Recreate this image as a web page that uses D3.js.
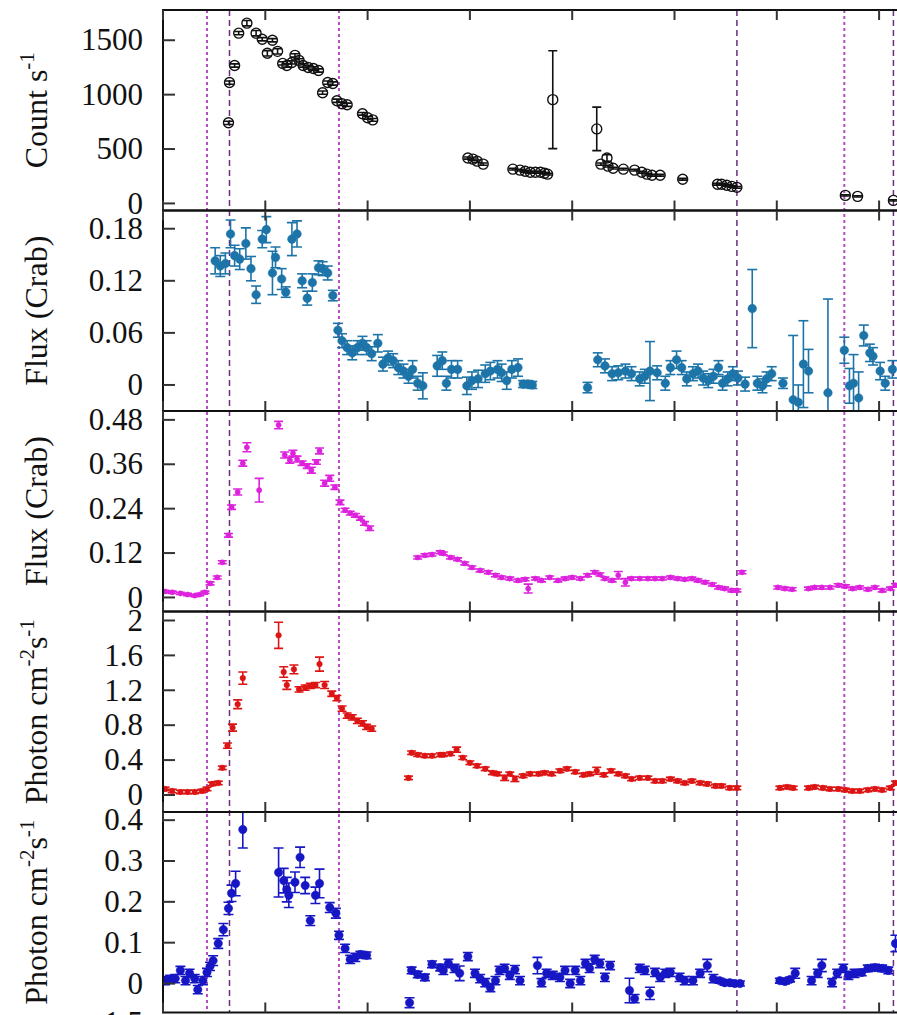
<!DOCTYPE html>
<html>
<head>
<meta charset="utf-8">
<script src="https://cdn.jsdelivr.net/npm/d3@7"></script>
<style>
  body { margin: 0; background: #fff; }
  svg { display: block; }
</style>
</head>
<body>
<div id="chart"></div>
<script>
// time in ks from start of panel, [t, value, error]

const countRate = [
  [64,741,15],[65,1111,15],[70,1268,15],[74,1565,15],[82,1657,25],[91,1565,25],[97,1509,15],
  [102,1380,25],[107,1500,15],[112,1398,25],[117,1287,15],[121,1268,15],[126,1296,15],[129,1361,15],
  [133,1315,15],[137,1268,15],[142,1250,15],[147,1240,15],[152,1222,15],[156,1018,15],[161,1111,15],
  [166,1102,15],[170,944,15],[175,916,15],[180,907,15],[195,824,12],[200,787,12],[205,768,12],
  [298,417,10],[303,407,10],[307,389,10],[313,361,10],[342,315,8],[349,306,8],[354,296,8],[359,287,8],
  [364,287,8],[369,287,8],[373,278,8],[376,269,8],[381,954,450],[424,685,200],[428,361,10],[434,417,30],
  [435,343,8],[440,324,8],[450,315,8],[461,306,8],[468,287,8],[473,269,8],[478,259,8],[486,259,8],
  [508,222,8],[542,176,8],[546,176,8],[551,167,8],[556,157,8],[561,148,8],[667,74,6],[679,65,6],[714,28,6]
];

const crabFluxHard = [
  [51,0.143,0.015],[56,0.137,0.012],[61,0.140,0.012],[66,0.174,0.016],[70,0.149,0.012],[75,0.145,0.012],
  [81,0.163,0.018],[86,0.134,0.014],[91,0.104,0.010],[97,0.168,0.010],[101,0.179,0.015],[107,0.129,0.025],
  [110,0.147,0.012],[116,0.122,0.012],[120,0.107,0.006],[126,0.168,0.019],[131,0.174,0.015],[136,0.120,0.008],
  [141,0.100,0.008],[146,0.118,0.010],[152,0.135,0.008],[156,0.134,0.008],[161,0.129,0.008],[166,0.103,0.006],
  [171,0.063,0.008],[175,0.051,0.008],[180,0.043,0.008],[185,0.037,0.008],[190,0.043,0.008],[195,0.048,0.008],
  [199,0.043,0.008],[204,0.036,0.008],[210,0.048,0.010],[215,0.024,0.008],[220,0.031,0.008],[225,0.028,0.008],
  [230,0.020,0.008],[235,0.016,0.008],[240,0.010,0.008],[244,0.018,0.010],[249,0.002,0.008],[254,-0.001,0.015],
  [268,0.022,0.012],[273,0.028,0.010],[277,0.002,0.008],[282,0.018,0.010],[288,0.018,0.010],[297,-0.001,0.010],
  [302,0.005,0.010],[308,0.007,0.010],[315,0.013,0.010],[320,0.016,0.010],[327,0.018,0.010],[331,0.014,0.010],
  [336,0.005,0.010],[341,0.018,0.010],[347,0.020,0.010],[352,0.001,0.004],[357,0.001,0.004],[361,0.000,0.004],
  [415,-0.003,0.006],[425,0.029,0.008],[432,0.022,0.008],[439,0.013,0.008],[445,0.014,0.008],[452,0.016,0.008],
  [458,0.013,0.008],[466,0.007,0.008],[471,0.010,0.008],[476,0.016,0.034],[483,0.014,0.008],[491,0.002,0.008],
  [496,0.020,0.008],[502,0.029,0.010],[507,0.020,0.008],[512,0.007,0.008],[518,0.013,0.008],[523,0.016,0.008],
  [528,0.008,0.008],[533,0.005,0.008],[538,0.010,0.008],[543,0.020,0.008],[547,0.002,0.008],[552,0.007,0.008],
  [557,0.013,0.008],[562,0.008,0.008],[569,0.001,0.008],[576,0.088,0.045],[581,0.002,0.008],[586,-0.001,0.008],
  [590,0.007,0.008],[595,0.013,0.008],[606,0.002,0.006],[616,-0.017,0.074],[621,-0.020,0.020],[626,0.024,0.050],
  [631,0.016,0.025],[650,-0.009,0.108],[666,0.040,0.015],[671,-0.001,0.020],[675,0.002,0.033],[680,-0.015,0.030],
  [685,0.057,0.012],[691,0.037,0.010],[694,0.033,0.010],[701,0.016,0.010],[706,0.002,0.008],[713,0.018,0.010]
];

const crabFluxSoft = [
  [2,0.016,0.003],[9,0.014,0.003],[17,0.011,0.003],[24,0.008,0.003],[31,0.005,0.003],[36,0.008,0.003],
  [41,0.014,0.003],[46,0.038,0.004],[53,0.054,0.004],[58,0.095,0.004],[64,0.168,0.005],[67,0.244,0.006],
  [73,0.285,0.008],[78,0.363,0.008],[82,0.406,0.012],[94,0.290,0.032],[113,0.466,0.010],[119,0.385,0.008],
  [124,0.371,0.008],[127,0.390,0.008],[131,0.374,0.008],[136,0.363,0.006],[141,0.355,0.006],[145,0.344,0.008],
  [150,0.366,0.006],[153,0.396,0.008],[158,0.309,0.008],[163,0.322,0.008],[168,0.298,0.006],[173,0.257,0.006],
  [178,0.236,0.005],[183,0.228,0.005],[188,0.222,0.005],[193,0.214,0.005],[197,0.200,0.005],[202,0.187,0.006],
  [249,0.108,0.004],[256,0.114,0.004],[263,0.116,0.004],[271,0.122,0.004],[274,0.119,0.004],[281,0.108,0.004],
  [288,0.103,0.004],[295,0.092,0.004],[302,0.081,0.004],[310,0.073,0.004],[318,0.068,0.004],[325,0.060,0.004],
  [331,0.054,0.004],[339,0.051,0.004],[347,0.046,0.004],[354,0.049,0.004],[357,0.024,0.012],[364,0.051,0.004],
  [370,0.046,0.004],[378,0.054,0.004],[386,0.046,0.004],[393,0.051,0.004],[400,0.054,0.004],[408,0.051,0.004],
  [415,0.060,0.004],[422,0.068,0.004],[427,0.062,0.004],[432,0.051,0.004],[439,0.046,0.004],[445,0.060,0.010],
  [452,0.041,0.010],[458,0.051,0.004],[466,0.051,0.004],[474,0.051,0.004],[481,0.051,0.004],[488,0.051,0.004],
  [496,0.054,0.004],[503,0.051,0.004],[510,0.049,0.004],[517,0.051,0.004],[523,0.046,0.004],[530,0.041,0.004],
  [537,0.035,0.004],[543,0.027,0.004],[549,0.024,0.004],[556,0.019,0.004],[561,0.019,0.004],[566,0.068,0.004],
  [601,0.027,0.004],[608,0.024,0.004],[615,0.022,0.004],[631,0.024,0.004],[637,0.027,0.004],[644,0.027,0.004],
  [652,0.027,0.004],[660,0.033,0.004],[667,0.030,0.004],[674,0.024,0.004],[681,0.027,0.004],[689,0.022,0.004],
  [696,0.027,0.004],[703,0.019,0.004],[711,0.024,0.004],[716,0.033,0.004]
];

const photonFluxSoft = [
  [2,0.069,0.02],[9,0.046,0.02],[17,0.035,0.02],[24,0.035,0.02],[31,0.035,0.02],[38,0.046,0.02],[43,0.069,0.02],
  [48,0.127,0.02],[54,0.138,0.02],[58,0.311,0.02],[63,0.565,0.03],[68,0.772,0.04],[73,1.04,0.05],[78,1.34,0.07],
  [113,1.83,0.15],[118,1.41,0.06],[121,1.26,0.05],[128,1.44,0.05],[133,1.21,0.03],[139,1.23,0.03],[144,1.25,0.03],
  [149,1.26,0.03],[153,1.50,0.08],[158,1.26,0.04],[165,1.16,0.03],[170,1.11,0.03],[175,0.99,0.03],[180,0.91,0.03],
  [185,0.89,0.03],[190,0.85,0.03],[195,0.82,0.03],[199,0.78,0.03],[204,0.76,0.03],[240,0.196,0.02],[243,0.484,0.02],
  [249,0.461,0.02],[256,0.450,0.02],[263,0.450,0.02],[271,0.461,0.02],[274,0.461,0.02],[281,0.473,0.02],[287,0.519,0.03],
  [293,0.427,0.02],[300,0.369,0.02],[307,0.334,0.02],[315,0.300,0.02],[322,0.254,0.02],[327,0.242,0.02],[334,0.196,0.03],
  [339,0.242,0.02],[344,0.184,0.03],[352,0.219,0.02],[359,0.242,0.02],[367,0.242,0.02],[373,0.254,0.02],[380,0.242,0.02],
  [388,0.277,0.02],[395,0.300,0.02],[403,0.265,0.02],[411,0.231,0.02],[417,0.242,0.02],[424,0.277,0.04],[431,0.231,0.02],
  [438,0.277,0.02],[445,0.242,0.02],[452,0.219,0.02],[458,0.184,0.02],[466,0.196,0.02],[474,0.196,0.02],[481,0.161,0.02],
  [488,0.161,0.02],[496,0.184,0.02],[503,0.161,0.02],[510,0.138,0.02],[517,0.161,0.02],[525,0.138,0.02],[532,0.127,0.02],
  [540,0.104,0.02],[546,0.104,0.02],[554,0.081,0.02],[561,0.081,0.02],[603,0.081,0.02],[610,0.092,0.02],[616,0.081,0.02],
  [631,0.081,0.02],[637,0.092,0.02],[645,0.081,0.02],[652,0.069,0.02],[660,0.069,0.02],[667,0.058,0.02],[674,0.046,0.02],
  [681,0.046,0.02],[689,0.058,0.02],[696,0.069,0.02],[703,0.058,0.02],[711,0.081,0.02],[716,0.138,0.02]
];

const photonFluxHard = [
  [2,0.007,0.01],[7,0.010,0.01],[12,0.012,0.01],[17,0.032,0.01],[22,0.007,0.01],[26,0.025,0.01],[31,0.012,0.01],
  [34,-0.015,0.01],[39,0.007,0.01],[43,0.027,0.01],[46,0.042,0.01],[49,0.056,0.012],[54,0.098,0.012],[59,0.132,0.015],
  [64,0.184,0.015],[67,0.221,0.02],[71,0.245,0.03],[78,0.377,0.045],[113,0.272,0.06],[118,0.252,0.03],[121,0.230,0.03],
  [123,0.216,0.03],[129,0.248,0.025],[134,0.309,0.025],[139,0.240,0.02],[144,0.154,0.012],[149,0.216,0.02],[153,0.245,0.035],
  [163,0.186,0.012],[169,0.172,0.012],[172,0.118,0.01],[178,0.086,0.01],[183,0.059,0.01],[188,0.064,0.01],[193,0.071,0.008],
  [199,0.069,0.008],[241,-0.047,0.012],[243,0.032,0.008],[249,0.022,0.008],[256,0.015,0.008],[263,0.047,0.008],[271,0.039,0.008],
  [274,0.032,0.01],[279,0.049,0.01],[285,0.037,0.01],[290,0.025,0.018],[298,0.066,0.01],[305,0.025,0.01],[310,0.012,0.01],
  [315,0.002,0.01],[320,-0.010,0.01],[325,0.007,0.01],[329,0.032,0.01],[334,0.037,0.01],[339,0.020,0.01],[344,0.034,0.01],
  [349,0.007,0.01],[366,0.044,0.02],[370,0.002,0.01],[375,0.025,0.01],[381,0.020,0.01],[388,0.015,0.01],[393,0.032,0.01],
  [398,0.000,0.01],[403,0.032,0.01],[408,0.007,0.01],[413,0.049,0.01],[417,0.037,0.01],[422,0.059,0.01],[427,0.049,0.01],
  [432,0.015,0.01],[437,0.044,0.01],[456,-0.017,0.03],[461,-0.037,0.01],[466,0.037,0.01],[471,0.032,0.01],[476,-0.024,0.015],
  [481,0.027,0.01],[486,0.015,0.01],[491,0.025,0.01],[496,0.027,0.01],[505,0.015,0.01],[510,0.007,0.01],[518,0.007,0.01],
  [525,0.025,0.01],[532,0.044,0.015],[538,0.012,0.01],[544,0.007,0.006],[549,0.002,0.006],[554,0.002,0.006],[559,0.000,0.006],
  [564,0.000,0.006],[603,0.007,0.006],[608,0.005,0.006],[613,0.010,0.006],[618,0.025,0.012],[634,0.007,0.01],[640,0.025,0.01],
  [644,0.044,0.015],[654,0.002,0.01],[659,0.025,0.01],[665,0.037,0.01],[670,0.020,0.01],[676,0.025,0.01],[683,0.027,0.008],
  [689,0.037,0.008],[696,0.039,0.008],[703,0.037,0.008],[709,0.032,0.008],[716,0.098,0.02]
];

// vertical event markers, two kinds of dashes
const eventTimes = [43, 65, 172, 561, 666, 714];
const eventKinds = ["dot", "dash", "dot", "dash", "dot", "dash"];

const xTicks = [0, 100, 200, 300, 400, 500, 600, 700];

const countTicks = [0, 500, 1000, 1500];
const countTickLabels = ["0", "500", "1000", "1500"];
const hardTicks = [0, 0.06, 0.12, 0.18];
const hardTickLabels = ["0", "0.06", "0.12", "0.18"];
const softTicks = [0, 0.12, 0.24, 0.36, 0.48];
const softTickLabels = ["0", "0.12", "0.24", "0.36", "0.48"];
const photonSoftTicks = [0, 0.4, 0.8, 1.2, 1.6, 2];
const photonSoftTickLabels = ["0", "0.4", "0.8", "1.2", "1.6", "2"];
const photonHardTicks = [0, 0.1, 0.2, 0.3, 0.4];
const photonHardTickLabels = ["0", "0.1", "0.2", "0.3", "0.4"];

document.addEventListener('DOMContentLoaded', function() {
  var width = 897, height = 1015;
  var left = 163, top0 = 10, panelH = 200.5;
  var serif = "'Liberation Serif'";

  var svg = d3.select("#chart").append("svg")
      .attr("width", width).attr("height", height)
      .style("overflow", "hidden");

  // shared time axis, right edge of the frame is cropped off
  var x = d3.scaleLinear().domain([0, 760]).range([left, left + 760 * 1.023]);
  var right = x(760);

  var panels = [
    { data: countRate, domain: [-65, 1778], ticks: countTicks, labels: countTickLabels,
      title: [["Count s", 0], ["-1", 1]], color: "#111", r: 5, open: true, cap: 4.5 },
    { data: crabFluxHard, domain: [-0.030, 0.201], ticks: hardTicks, labels: hardTickLabels,
      title: [["Flux (Crab)", 0]], color: "#1c74a8", r: 4.3, cap: 5 },
    { data: crabFluxSoft, domain: [-0.038, 0.504], ticks: softTicks, labels: softTickLabels,
      title: [["Flux (Crab)", 0]], color: "#dd22dd", r: 2.6, cap: 4.5 },
    { data: photonFluxSoft, domain: [-0.195, 2.103], ticks: photonSoftTicks, labels: photonSoftTickLabels,
      title: [["Photon cm", 0], ["-2", 1], ["s", 0], ["-1", 1]], color: "#dd1414", r: 2.8, cap: 4.5 },
    { data: photonFluxHard, domain: [-0.071, 0.420], ticks: photonHardTicks, labels: photonHardTickLabels,
      title: [["Photon cm", 0], ["-2", 1], ["s", 0], ["-1", 1]], color: "#1616c4", r: 4.2, cap: 5 }
  ];

  var defs = svg.append("defs");

  // event lines run through every panel
  var ev = svg.append("g").attr("class", "events");
  eventTimes.forEach(function(t, i) {
    var dot = eventKinds[i] === "dot";
    ev.append("line")
      .attr("x1", x(t)).attr("x2", x(t))
      .attr("y1", top0).attr("y2", top0 + 5 * panelH)
      .attr("stroke", dot ? "#b84cc4" : "#6c2c80")
      .attr("stroke-width", dot ? 2 : 1.5)
      .attr("stroke-dasharray", dot ? "3,3" : "6,4");
  });

  panels.forEach(function(p, i) {
    var y0 = top0 + i * panelH;
    var y = d3.scaleLinear().domain(p.domain).range([y0 + panelH, y0]);

    defs.append("clipPath").attr("id", "clip" + i)
      .append("rect").attr("x", left).attr("y", y0).attr("width", right - left).attr("height", panelH);

    var g = svg.append("g").attr("clip-path", "url(#clip" + i + ")");

    // error bars
    var eb = g.append("g").attr("stroke", p.color).attr("stroke-width", 1.6);
    eb.selectAll("line.bar").data(p.data).enter().append("line").attr("class", "bar")
      .attr("x1", function(d) { return x(d[0]); }).attr("x2", function(d) { return x(d[0]); })
      .attr("y1", function(d) { return y(d[1] - d[2]); }).attr("y2", function(d) { return y(d[1] + d[2]); });
    [1, -1].forEach(function(s) {
      eb.selectAll("line.cap" + s).data(p.data).enter().append("line")
        .attr("x1", function(d) { return x(d[0]) - p.cap; }).attr("x2", function(d) { return x(d[0]) + p.cap; })
        .attr("y1", function(d) { return y(d[1] + s * d[2]); }).attr("y2", function(d) { return y(d[1] + s * d[2]); });
    });

    // markers
    g.append("g").selectAll("circle").data(p.data).enter().append("circle")
      .attr("cx", function(d) { return x(d[0]); })
      .attr("cy", function(d) { return y(d[1]); })
      .attr("r", p.r)
      .attr("fill", p.open ? "none" : p.color)
      .attr("stroke", p.color)
      .attr("stroke-width", p.open ? 1.4 : 0.5);

    // frame
    svg.append("rect")
      .attr("x", left).attr("y", y0).attr("width", right - left).attr("height", panelH)
      .attr("fill", "none").attr("stroke", "#111").attr("stroke-width", 2);

    // y ticks and labels
    svg.append("g").selectAll("line").data(p.ticks).enter().append("line")
      .attr("x1", left).attr("x2", left + 12)
      .attr("y1", function(d) { return y(d); }).attr("y2", function(d) { return y(d); })
      .attr("stroke", "#333").attr("stroke-width", 2);
    svg.append("g").selectAll("text").data(p.ticks).enter().append("text")
      .attr("x", 143).attr("y", function(d) { return y(d); })
      .attr("dy", "0.33em")
      .attr("text-anchor", "end")
      .attr("fill", "#111")
      .style("font-family", serif)
      .style("font-size", "31px")
      .text(function(d, k) { return p.labels[k]; });

    // x ticks top and bottom, inward
    var xt = svg.append("g").attr("stroke", "#333").attr("stroke-width", 2);
    xTicks.forEach(function(t) {
      xt.append("line").attr("x1", x(t)).attr("x2", x(t)).attr("y1", y0).attr("y2", y0 + 10);
      xt.append("line").attr("x1", x(t)).attr("x2", x(t)).attr("y1", y0 + panelH - 10).attr("y2", y0 + panelH);
    });

    // rotated axis title with superscripts
    var title = svg.append("text")
      .attr("transform", "translate(47," + (y0 + panelH / 2) + ") rotate(-90)")
      .attr("text-anchor", "middle")
      .attr("fill", "#111")
      .style("font-family", serif)
      .style("font-size", "32px");
    var raised = 0;
    p.title.forEach(function(part) {
      var shift = part[1] ? -13 : 0;
      title.append("tspan")
        .attr("dy", shift - raised)
        .style("font-size", part[1] ? "21px" : "32px")
        .text(part[0]);
      raised = shift;
    });
  });

  // top of the next (cropped) panel's first tick label
  svg.append("text")
    .attr("x", 143).attr("y", top0 + 5 * panelH + 10)
    .attr("dy", "0.33em").attr("text-anchor", "end")
    .attr("fill", "#111")
    .style("font-family", serif)
    .style("font-size", "31px")
    .text("1.5");
});
</script>
</body>
</html>
